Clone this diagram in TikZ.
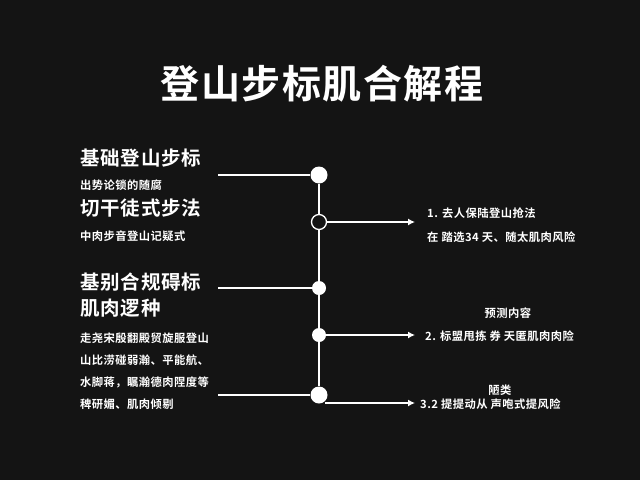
\documentclass[tikz,border=0pt]{standalone}
\usepackage{fontspec}
\setmainfont{Noto Sans CJK SC}
\newfontfamily\cjkb[LetterSpace=4]{Noto Sans CJK SC Bold}
\begin{document}
\begin{tikzpicture}[x=1pt,y=-1pt,
 big/.style={anchor=west,text=white,font=\cjkb\fontsize{19.5}{20}\selectfont,inner sep=0},
 sm/.style={anchor=west,text=white,font=\cjkb\fontsize{11.3}{12}\selectfont,inner sep=0},
 ln/.style={white,line width=1.3pt},
 dot/.style={circle,fill=white,inner sep=0},
 arr/.style={white,line width=1.3pt,-{Latex[length=7pt,width=7pt]}}]
\usetikzlibrary{arrows.meta}
\fill[black!92!white] (0,0) rectangle (640,480);
\useasboundingbox (0,0) rectangle (640,480);
\node[text=white,font=\cjkb\fontsize{39}{39}\selectfont] (t) at (322,84) {登山步标肌合解程};
\node[big] (a1) at (80,158) {基础登山步标};
\node[sm] (a2) at (80,185) {出势论锁的随腐};
\node[big] (a3) at (80,208) {切干徒式步法};
\node[sm] (a4) at (80,236) {中肉步音登山记疑式};
\node[big] (b1) at (80,282) {基别合规碍标};
\node[big] (b2) at (80,308) {肌肉逻种};
\node[sm] (c1) at (80,338) {走尧宋殷翻殿贸旋服登山};
\node[sm] (c2) at (80,360) {山比涝碰弱瀚、平能航、};
\node[sm] (c3) at (80,382) {水脚蒋，瞩瀚德肉陧度等};
\node[sm] (c4) at (80,404) {稗研媚、肌肉倾剔};
\coordinate (l1) at (218,175); \coordinate (l3) at (218,288); \coordinate (l5) at (218,395);
\node[dot,minimum size=17pt] (d1) at (319,175) {};
\node[circle,draw=white,line width=1.3pt,fill=black!92!white,minimum size=15pt,inner sep=0] (d2) at (319,222) {};
\node[dot,minimum size=14pt] (d3) at (319,288) {};
\node[dot,minimum size=14pt] (d4) at (319,335) {};
\node[dot,minimum size=17pt] (d5) at (319,395) {};
\draw[ln] (d1)--(d2)--(d3)--(d4)--(d5);
\draw[ln] (l1)--(d1); \draw[ln] (l3)--(d3); \draw[ln] (l5)--(d5);
\coordinate (r2) at (415,222); \coordinate (r4) at (415,335); \coordinate (r5) at (415,403);
\draw[arr] (d2.east)--(r2);
\draw[arr] (d4.east)--(r4);
\draw[arr] (d5.south east |- r5)--(r5);
\node[sm] (e1) at (427,213) {1. 去人保陆登山抢法};
\node[sm] (e2) at (427,237) {在 踏选34 天、随太肌肉风险};
\node[sm,anchor=center] (e3) at (508,313) {预测内容};
\node[sm] (e4) at (425,336) {2. 标盟甩拣 券 天匿肌肉肉险};
\node[sm,anchor=center] (e5) at (500,390) {陋类};
\node[sm] (e6) at (420,404) {3.2 提提动从 声咆式提风险};
\end{tikzpicture}
\end{document}
